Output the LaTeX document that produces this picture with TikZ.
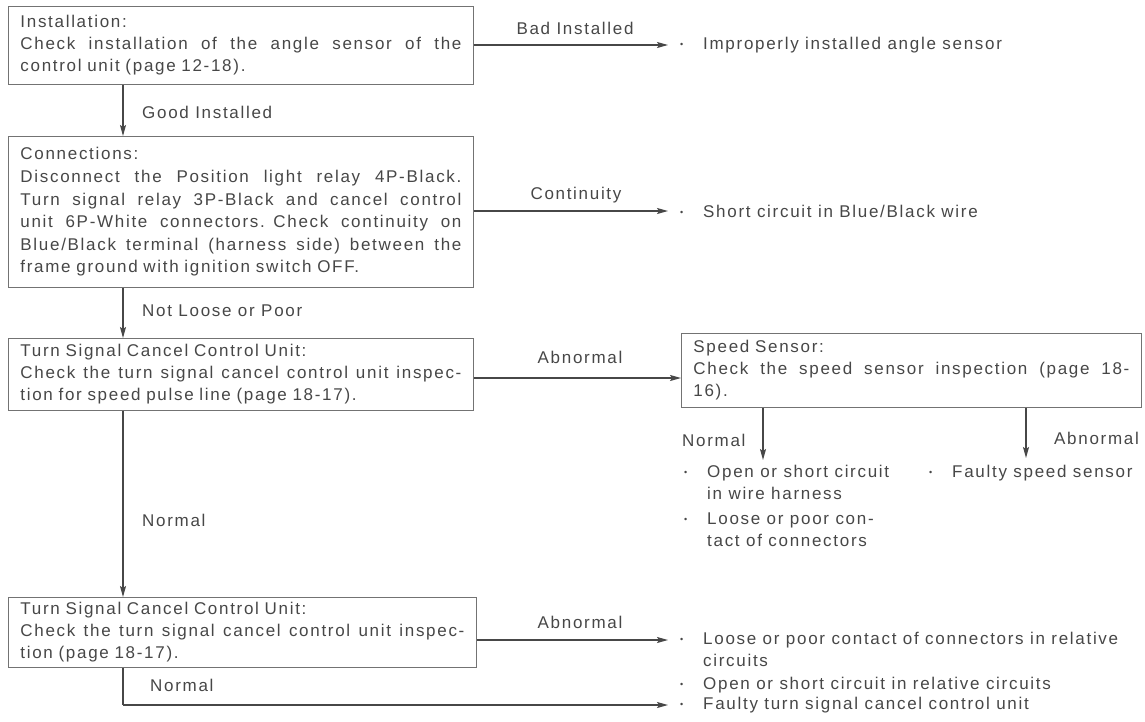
\documentclass[tikz,border=0pt]{standalone}
\usepackage{fontspec}
\setmainfont{Liberation Sans}[LetterSpace=10]
\usetikzlibrary{arrows.meta}
\newcommand\jl[1]{\makebox[\hsize][s]{\spaceskip=0.28em plus 1fil\relax #1}}
\newcommand\bul{\makebox[27pt][l]{\hspace{4pt}{\fontsize{9}{9}\selectfont\raisebox{2pt}{•}}}}
\newcommand\hang{\hspace*{27pt}}
\begin{document}
\begin{tikzpicture}[x=1pt,y=-1pt,
  txt/.style={font=\fontsize{17}{22}\selectfont, text=black!72},
  box/.style={txt, draw=black!55, line width=0.9pt, anchor=north west, align=left,
     inner xsep=12pt, inner ysep=4pt},
  arr/.style={draw=black!72, line width=1.3pt, -{Stealth[length=11pt,width=6pt,inset=2pt]}},
  ln/.style={draw=black!72, line width=1.3pt},
  lbl/.style={txt, inner sep=0pt},
  result/.style={txt, inner sep=0pt, align=left}]
\useasboundingbox (0,0) rectangle (1145,721);
\fill[white] (0,0) rectangle (1145,721);

% boxes
\node[box, text width=441pt, minimum height=78pt] (b1) at (8,6)
 {Installation:\\\jl{Check installation of the angle sensor of the}\\control unit (page 12-18).};
\node[box, text width=441pt, minimum height=151pt, font=\fontsize{17}{22.6}\selectfont] (b2) at (8,136)
 {Connections:\\
  \jl{Disconnect the Position light relay 4P-Black.}\\
  \jl{Turn signal relay 3P-Black and cancel control}\\
  \jl{unit 6P-White connectors. Check continuity on}\\
  \jl{Blue/Black terminal (harness side) between the}\\
  frame ground with ignition switch OFF.};
\node[box, text width=441pt, minimum height=72pt] (b3) at (8,338)
 {Turn Signal Cancel Control Unit:\\\jl{Check the turn signal cancel control unit inspec-}\\tion for speed pulse line (page 18-17).};
\node[box, text width=436pt, minimum height=74pt] (b4) at (681,333)
 {Speed Sensor:\\\jl{Check the speed sensor inspection (page 18-}\\16).};
\node[box, text width=444pt, minimum height=70pt] (b5) at (8,597)
 {Turn Signal Cancel Control Unit:\\\jl{Check the turn signal cancel control unit inspec-}\\tion (page 18-17).};

% outcomes
\node[result, anchor=west] (o1) at (676,45) {\bul Improperly installed angle sensor};
\node[result, anchor=west] (o2) at (676,211) {\bul Short circuit in Blue/Black wire};
\node[result, anchor=north west] (o3) at (680,465)
 {\bul Open or short circuit\\\hang in wire harness\\[3pt]\bul Loose or poor con-\\\hang tact of connectors};
\node[result, anchor=north west] (o4) at (925,465) {\bul Faulty speed sensor};
\node[result, anchor=north west] (o5) at (676,632)
 {\bul Loose or poor contact of connectors in relative\\\hang circuits\\[1pt]\bul Open or short circuit in relative circuits};
\node[result, anchor=west] (o6) at (676,705) {\bul Faulty turn signal cancel control unit};

% free ends
\coordinate (col) at (123,0);
\coordinate (e1) at (668,45);
\coordinate (e2) at (668,211);
\coordinate (e4) at (668,640);
\coordinate (corner) at (123,705);
\coordinate (e5) at (668,705);
\coordinate (sN) at (763,460);
\coordinate (sA) at (1026,458);

% connectors
\draw[arr] (b1.south -| col) -- (b2.north -| col);
\draw[arr] (b2.south -| col) -- (b3.north -| col);
\draw[arr] (b3.south -| col) -- (b5.north -| col);
\draw[ln] (b5.south -| col) -- (corner);
\draw[arr] (corner) -- (e5);
\draw[arr] (b1.east |- e1) -- (e1);
\draw[arr] (b2.east |- e2) -- (e2);
\draw[arr] (b3.east |- 0,378) -- (b4.west |- 0,378);
\draw[arr] (b5.east |- e4) -- (e4);
\draw[arr] (b4.south -| sN) -- (sN);
\draw[arr] (b4.south -| sA) -- (sA);

% labels
\node[lbl, anchor=west] (l1) at (142,112) {Good Installed};
\node[lbl, anchor=west] (l2) at (142,311) {Not Loose or Poor};
\node[lbl, anchor=west] (l3) at (142,520) {Normal};
\node[lbl, anchor=west] (l4) at (150,685) {Normal};
\node[lbl] (l5) at (575,28) {Bad Installed};
\node[lbl] (l6) at (576,195) {Continuity};
\node[lbl] (l7) at (580,357) {Abnormal};
\node[lbl] (l8) at (580,622) {Abnormal};
\node[lbl, anchor=west] (l9) at (682,440) {Normal};
\node[lbl, anchor=west] (l10) at (1054,438) {Abnormal};
\end{tikzpicture}
\end{document}
